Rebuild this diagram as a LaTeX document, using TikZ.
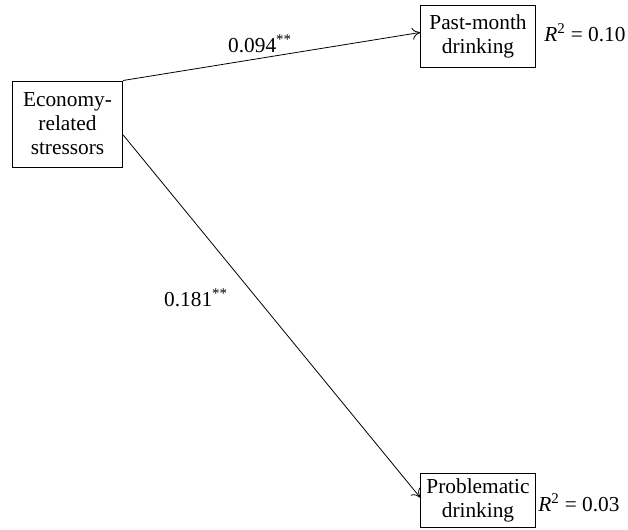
\documentclass[tikz,border=0pt]{standalone}
\usepackage{fontspec}
\setmainfont{Liberation Serif}
\usepackage{tikz}
\usetikzlibrary{positioning, arrows.meta}
\tikzset{
    varbox/.style={rectangle, draw, line width=0.75pt, align=center, inner sep=2pt,
        font=\fontsize{16}{18}\selectfont},
    pathline/.style={line width=0.6pt, -{To[length=6pt, width=9pt]}},
    coeflabel/.style={font=\fontsize{16}{18}\selectfont, inner sep=0pt},
    rsqlabel/.style={font=\fontsize{16}{18}\selectfont, inner sep=0pt, anchor=west}
}

\begin{document}
\begin{tikzpicture}[x=0.75pt, y=-0.75pt]
                    \useasboundingbox (0,0) rectangle (628,529);
                    \node[varbox, minimum width=82.5pt, minimum height=64.5pt] (eco) at (67.5,124) {Economy-\\related\\stressors};
                    \node[varbox, minimum width=86pt, minimum height=46pt] (past) at (478,36.5) {Past-month\\drinking};
                    \node[varbox, minimum width=86pt, minimum height=40pt] (prob) at (478,500.5) {Problematic\\drinking};

                    \node[rsqlabel] (rpast) at (544,33) {\textit{R}\textsuperscript{2} = 0.10};
                    \node[rsqlabel] (rprob) at (538,503) {\textit{R}\textsuperscript{2} = 0.03};

                    \draw[pathline] (eco.north east) -- (past.176);
                    \draw[pathline] (eco.-11) -- (prob.177);

                    \node[coeflabel] (cpast) at (260,44) {0.094\textsuperscript{**}};
                    \node[coeflabel] (cprob) at (196,298) {0.181\textsuperscript{**}};
                \end{tikzpicture}
\end{document}
